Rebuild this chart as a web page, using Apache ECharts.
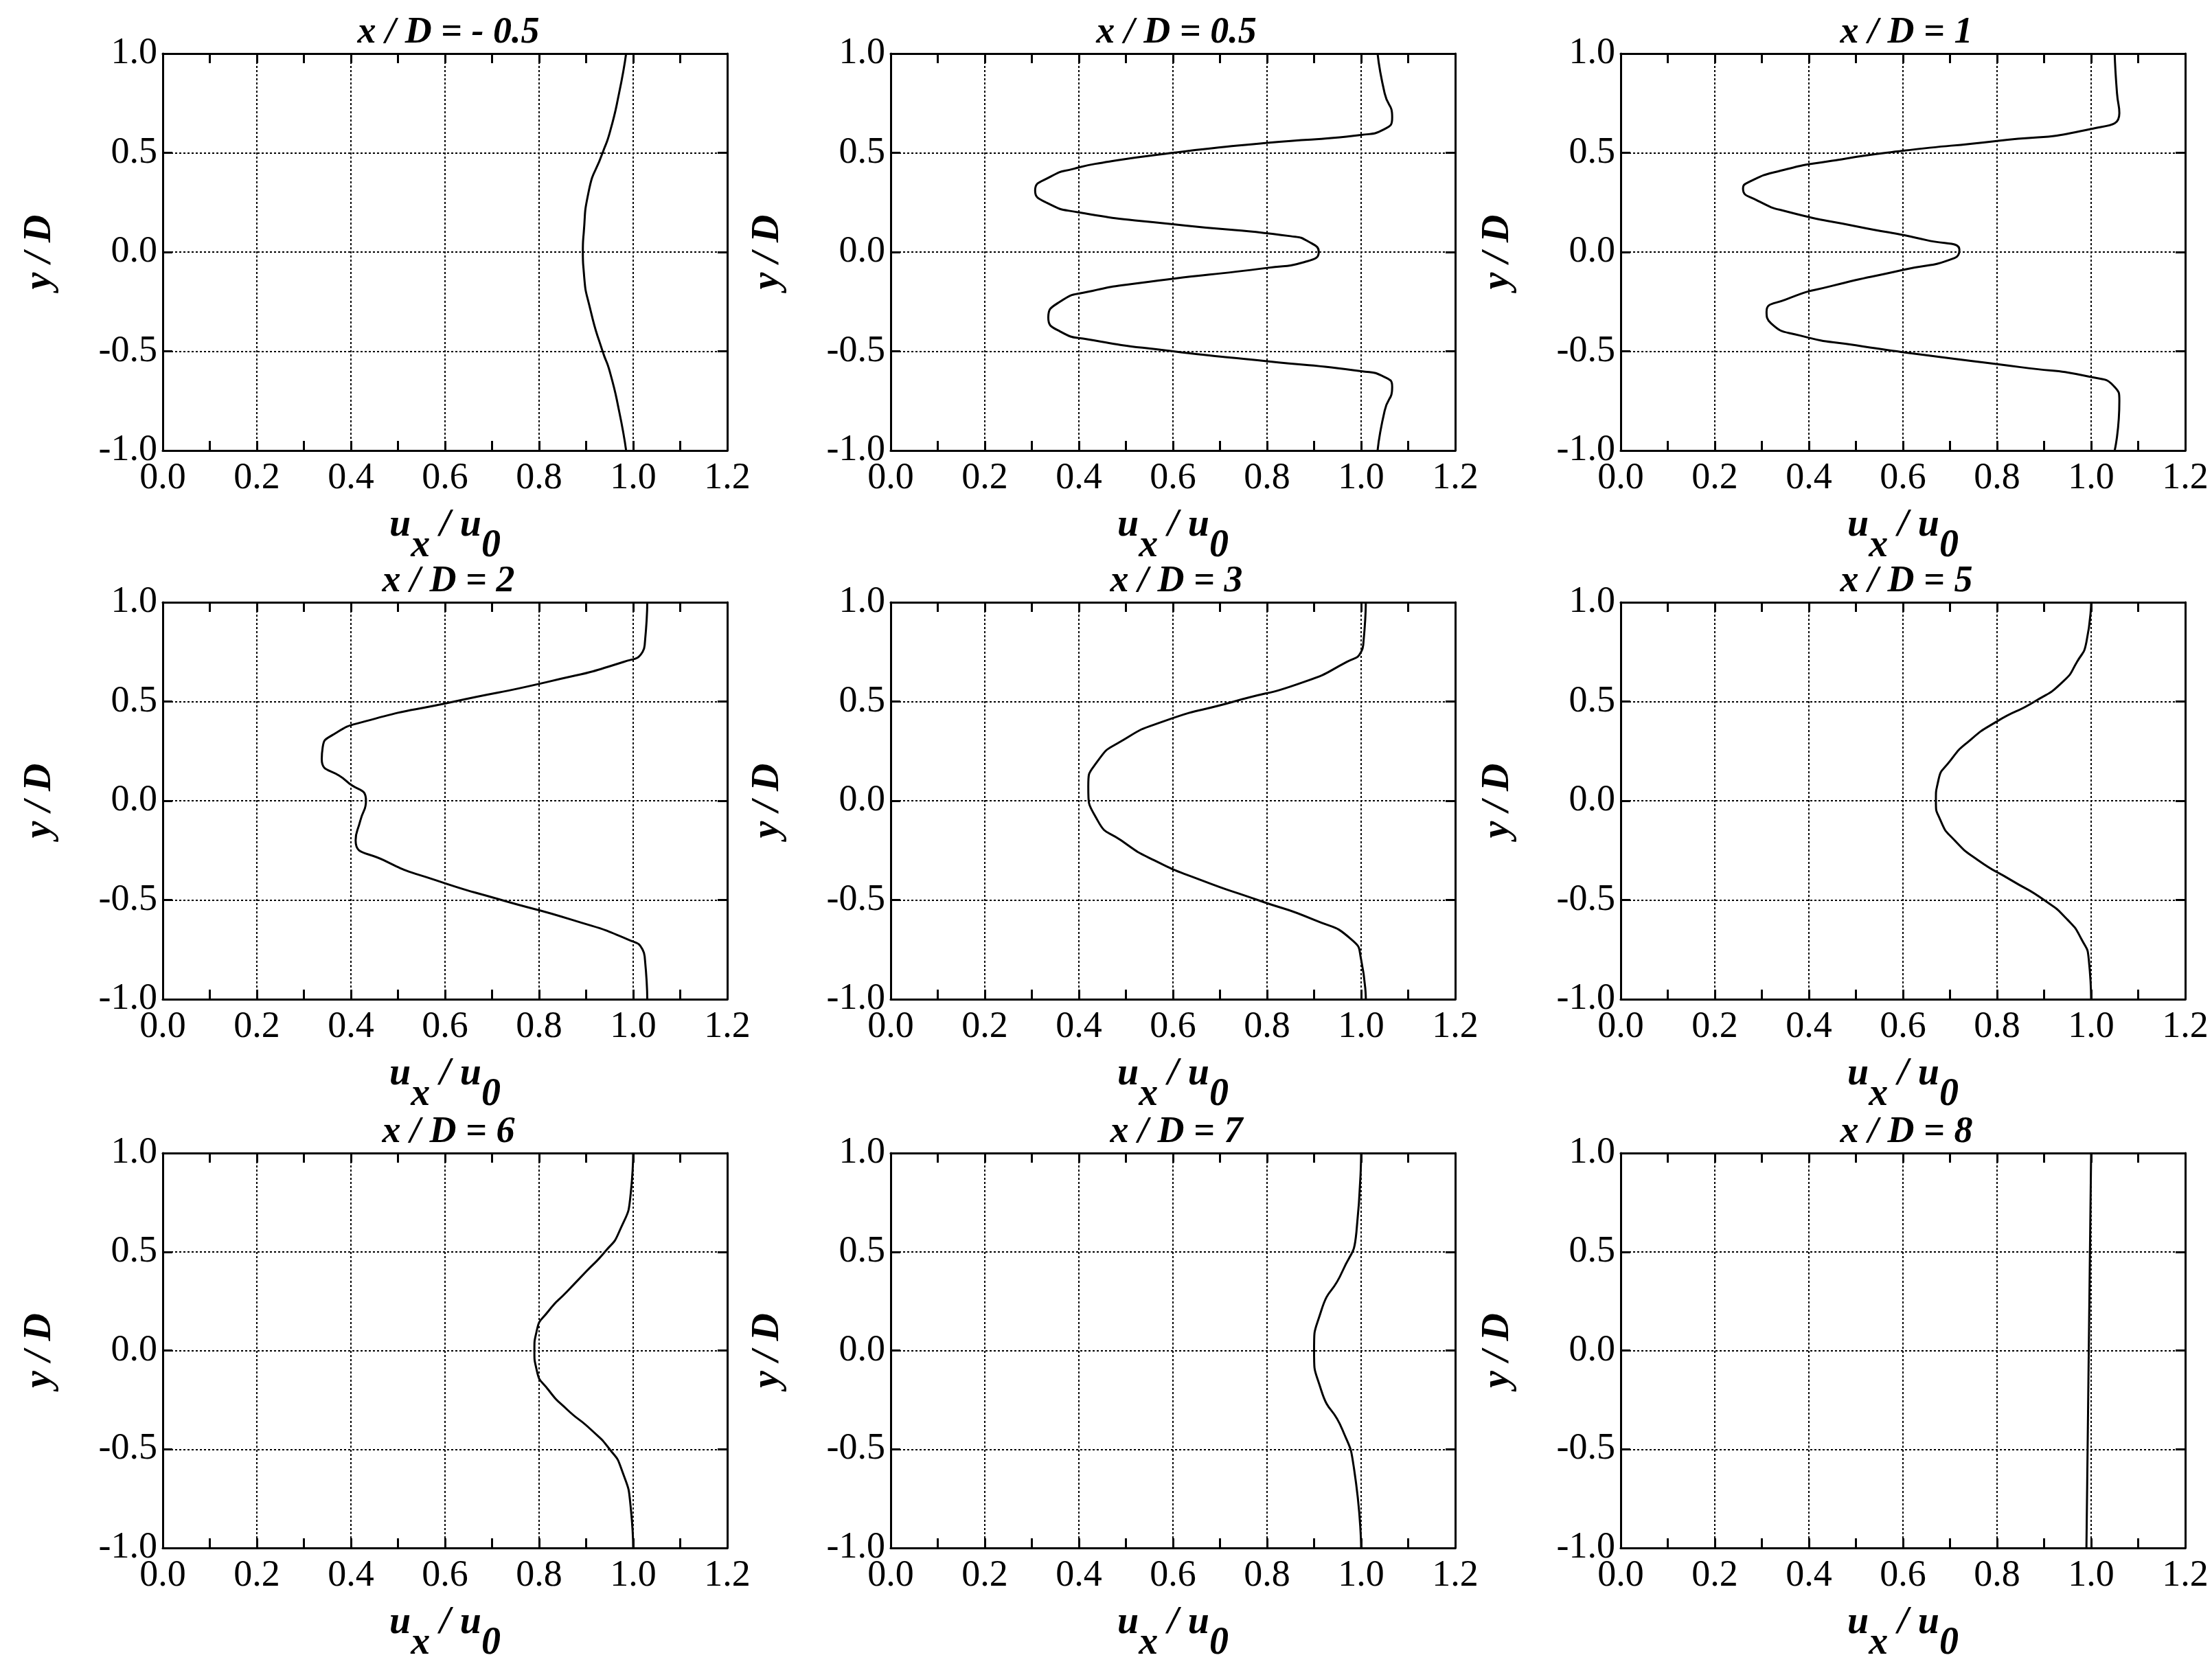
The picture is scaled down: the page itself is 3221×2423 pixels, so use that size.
<!DOCTYPE html>
<html><head><meta charset="utf-8">
<script src="https://cdn.jsdelivr.net/npm/echarts@6/dist/echarts.min.js"></script>
<style>html,body{margin:0;padding:0;background:#fff}#c{width:3221px;height:2423px}</style>
</head><body><div id="c"></div>
<script>
const titles = ['x / D = - 0.5','x / D = 0.5','x / D = 1','x / D = 2','x / D = 3','x / D = 5','x / D = 6','x / D = 7','x / D = 8'];
const xTicks = [0,0.2,0.4,0.6,0.8,1.0,1.2];
const yTicks = [-1,-0.5,0,0.5,1];
// each profile: [u/u0, y/D]
const p1 = [[0.985,1],[0.97,0.8],[0.95,0.6],[0.935,0.5],[0.905,0.3],[0.895,0.1],[0.893,0],[0.895,-0.1],[0.91,-0.3],[0.935,-0.5],[0.95,-0.6],[0.97,-0.8],[0.985,-1]];
const p2 = [[1.035,1],[1.05,0.8],[1.066,0.68],[1.05,0.62],[1.0,0.59],[0.8,0.55],[0.6,0.5],[0.45,0.45],[0.39,0.42],[0.34,0.38],[0.307,0.31],[0.33,0.25],[0.40,0.2],[0.6,0.14],[0.85,0.08],[0.89,0.05],[0.91,0],[0.88,-0.05],[0.80,-0.08],[0.55,-0.15],[0.42,-0.2],[0.36,-0.25],[0.335,-0.33],[0.36,-0.4],[0.42,-0.44],[0.6,-0.5],[0.8,-0.55],[1.0,-0.6],[1.05,-0.63],[1.066,-0.68],[1.05,-0.8],[1.035,-1]];
const p3 = [[1.05,1],[1.055,0.8],[1.06,0.7],[1.0,0.62],[0.8,0.56],[0.6,0.51],[0.45,0.46],[0.34,0.41],[0.27,0.35],[0.26,0.32],[0.29,0.26],[0.36,0.2],[0.5,0.13],[0.65,0.06],[0.72,0.01],[0.71,-0.03],[0.6,-0.09],[0.45,-0.17],[0.35,-0.24],[0.31,-0.3],[0.32,-0.36],[0.38,-0.42],[0.5,-0.47],[0.65,-0.52],[0.85,-0.58],[1.0,-0.63],[1.05,-0.68],[1.06,-0.75],[1.05,-1]];
const p4 = [[1.03,1],[1.025,0.8],[1.02,0.75],[0.98,0.7],[0.82,0.6],[0.62,0.5],[0.43,0.4],[0.36,0.33],[0.34,0.27],[0.338,0.21],[0.39,0.1],[0.432,0],[0.42,-0.1],[0.41,-0.2],[0.47,-0.3],[0.58,-0.4],[0.72,-0.5],[0.87,-0.6],[0.99,-0.7],[1.02,-0.75],[1.025,-0.8],[1.03,-1]];
const p5 = [[1.01,1],[1.005,0.8],[1.0,0.75],[0.97,0.7],[0.88,0.6],[0.73,0.5],[0.58,0.4],[0.49,0.3],[0.44,0.2],[0.42,0.07],[0.44,-0.1],[0.49,-0.2],[0.56,-0.3],[0.66,-0.4],[0.78,-0.5],[0.9,-0.6],[0.98,-0.7],[1.0,-0.8],[1.01,-1]];
const p6 = [[1.0,1],[0.99,0.8],[0.97,0.7],[0.94,0.6],[0.88,0.5],[0.8,0.4],[0.74,0.3],[0.70,0.2],[0.675,0.1],[0.67,0],[0.68,-0.1],[0.71,-0.2],[0.76,-0.3],[0.83,-0.4],[0.9,-0.5],[0.95,-0.6],[0.98,-0.7],[0.995,-0.8],[1.0,-1]];
const p7 = [[1.0,1],[0.995,0.8],[0.97,0.6],[0.94,0.5],[0.9,0.4],[0.86,0.3],[0.82,0.2],[0.795,0.1],[0.79,0],[0.795,-0.1],[0.82,-0.2],[0.86,-0.3],[0.91,-0.4],[0.95,-0.5],[0.975,-0.6],[0.995,-0.8],[1.0,-1]];
const p8 = [[1.0,1],[0.99,0.6],[0.96,0.4],[0.915,0.2],[0.9,0],[0.915,-0.2],[0.96,-0.4],[0.985,-0.6],[1.0,-1]];
const p9 = [[1.0,1],[0.995,0],[0.99,-1]];
const profiles = [p1,p2,p3,p4,p5,p6,p7,p8,p9];

const lefts=[237,1297,2360], tops=[78,877,1679], W=822, H=578;
const font='Liberation Serif';
const grid=[],xAxis=[],yAxis=[],series=[],title=[];
profiles.forEach((p,i)=>{
  const L=lefts[i%3], T=tops[Math.floor(i/3)];
  grid.push({left:L,top:T,width:W,height:H});
  title.push({text:titles[i],left:L+W/2,top:T-62,textAlign:'center',
    textStyle:{fontFamily:font,fontSize:54,fontWeight:'bold',fontStyle:'italic',color:'#000'}});
  xAxis.push({type:'value',gridIndex:i,min:0,max:1.2,interval:0.2,position:'bottom',
    axisLine:{show:true,onZero:false,lineStyle:{color:'#000',width:3}},
    axisTick:{inside:true,length:14,lineStyle:{color:'#000',width:3}},
    minorTick:{show:true,splitNumber:2,length:14,lineStyle:{color:'#000',width:3}},
    splitLine:{show:true,lineStyle:{color:'#000',width:2,type:[3,3]}},
    axisLabel:{fontFamily:font,fontSize:54,color:'#000',margin:14,formatter:v=>v.toFixed(1)},
    name:'{a|u}{s|x}{a| / u}{s|0}',nameLocation:'middle',nameGap:82,
    nameTextStyle:{rich:{a:{fontFamily:font,fontSize:56,fontWeight:'bold',fontStyle:'italic',color:'#000'},
      s:{fontFamily:font,fontSize:56,fontWeight:'bold',fontStyle:'italic',color:'#000',verticalAlign:'bottom',padding:[0,0,-30,0]}}}});
  xAxis.push({type:'value',gridIndex:i,min:0,max:1.2,interval:0.2,position:'top',
    axisLine:{show:true,onZero:false,lineStyle:{color:'#000',width:3}},
    axisTick:{inside:true,length:14,lineStyle:{color:'#000',width:3}},
    minorTick:{show:true,splitNumber:2,length:14,lineStyle:{color:'#000',width:3}},
    splitLine:{show:false},axisLabel:{show:false}});
  yAxis.push({type:'value',gridIndex:i,min:-1,max:1,interval:0.5,position:'left',
    axisLine:{show:true,onZero:false,lineStyle:{color:'#000',width:3}},
    axisTick:{inside:true,length:14,lineStyle:{color:'#000',width:3}},
    splitLine:{show:true,lineStyle:{color:'#000',width:2,type:[3,3]}},
    axisLabel:{fontFamily:font,fontSize:54,color:'#000',margin:8,formatter:v=>v.toFixed(1)},
    name:'y / D',nameLocation:'middle',nameGap:150,nameRotate:90,
    nameTextStyle:{fontFamily:font,fontSize:56,fontWeight:'bold',fontStyle:'italic',color:'#000'}});
  yAxis.push({type:'value',gridIndex:i,min:-1,max:1,interval:0.5,position:'right',
    axisLine:{show:true,onZero:false,lineStyle:{color:'#000',width:3}},
    axisTick:{inside:true,length:14,lineStyle:{color:'#000',width:3}},
    splitLine:{show:false},axisLabel:{show:false}});
  series.push({type:'line',xAxisIndex:2*i,yAxisIndex:2*i,data:p,smooth:0.6,showSymbol:false,
    lineStyle:{color:'#000',width:3},silent:true});
});
const chart=echarts.init(document.getElementById('c'),null,{renderer:'canvas'});
chart.setOption({animation:false,backgroundColor:'#fff',title,grid,xAxis,yAxis,series});
</script></body></html>
